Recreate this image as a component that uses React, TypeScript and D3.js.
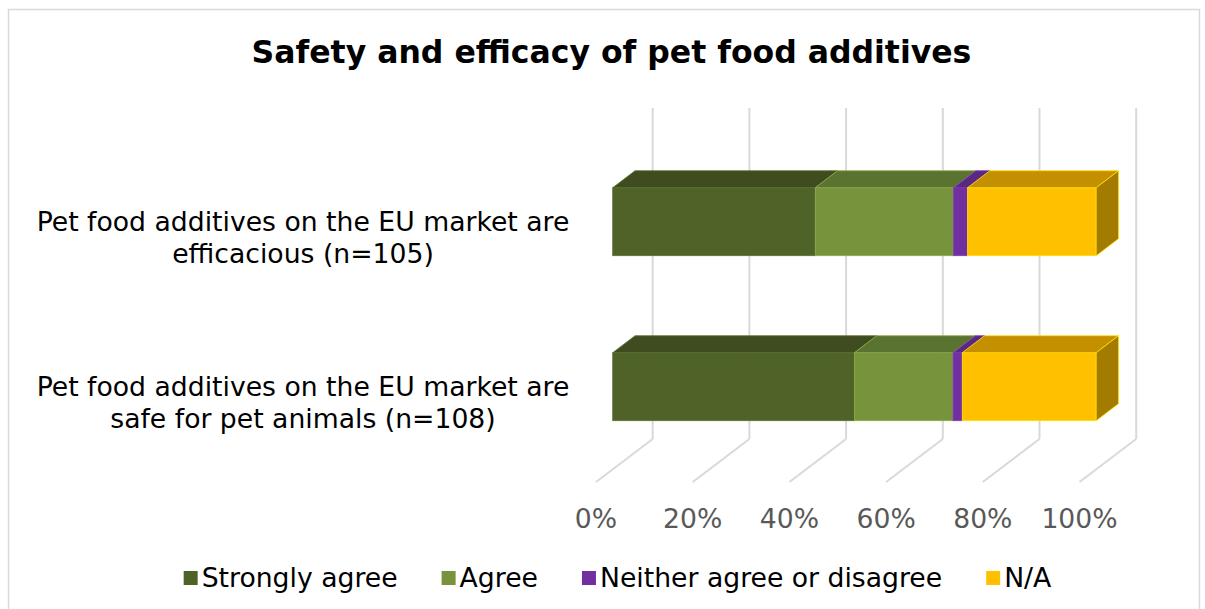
import React, { useEffect, useRef } from "react";
import * as d3 from "d3";

const categoryLines: string[][] = [
  ["Pet food additives on the EU market are", "efficacious (n=105)"],
  ["Pet food additives on the EU market are", "safe for pet animals (n=108)"],
];
const seriesNames = ["Strongly agree", "Agree", "Neither agree or disagree", "N/A"];
const stronglyAgree = [41.9, 50.0];
const agree = [28.6, 20.4];
const neither = [2.9, 1.9];
const notApplicable = [26.6, 27.7];
const tickValues = [0, 20, 40, 60, 80, 100];
const titleText = "Safety and efficacy of pet food additives";

const frontColors = ["#4F6228", "#77933C", "#7030A0", "#FFC000"];
const topColors = ["#3E4C20", "#5B7330", "#5A2782", "#C49000"];
const sideColors = ["#323E19", "#4A5D26", "#461F65", "#A37B00"];

const FONT = "'DejaVu Sans', Verdana, sans-serif";

export default function App() {
  const ref = useRef<SVGSVGElement | null>(null);

  useEffect(() => {
    const svg = d3.select(ref.current!);
    svg.selectAll("*").remove();

    // outer border
    svg
      .append("rect")
      .attr("x", 8.5)
      .attr("y", 9.5)
      .attr("width", 1191)
      .attr("height", 640)
      .attr("fill", "#fff")
      .attr("stroke", "#D9D9D9")
      .attr("stroke-width", 1.5);

    // title
    svg
      .append("text")
      .attr("x", 611.5)
      .attr("y", 63)
      .attr("text-anchor", "middle")
      .attr("font-family", FONT)
      .attr("font-weight", "bold")
      .attr("font-size", 31.5)
      .attr("fill", "#000")
      .text(titleText);

    const x = d3.scaleLinear().domain([0, 100]).range([612.7, 1096.2]);
    const y = d3
      .scaleBand<number>()
      .domain(categoryLines.map((_, i) => i))
      .range([139.2, 469.2])
      .paddingInner(0.588)
      .paddingOuter(0.294);
    const bw = y.bandwidth();

    const DX = 22.3;
    const DY = -17;
    const WALL_DX = 40;
    const FLOOR_DX = -16.7;
    const wallTop = 108;
    const wallBottom = 439;
    const floorFront = 482;

    // gridlines (back wall + floor)
    const grid = svg.append("g").attr("stroke", "#D9D9D9").attr("stroke-width", 2).attr("fill", "none");
    tickValues.forEach((t) => {
      grid
        .append("line")
        .attr("x1", x(t) + WALL_DX)
        .attr("x2", x(t) + WALL_DX)
        .attr("y1", wallTop)
        .attr("y2", wallBottom);
      grid
        .append("line")
        .attr("x1", x(t) + WALL_DX)
        .attr("y1", wallBottom)
        .attr("x2", x(t) + FLOOR_DX)
        .attr("y2", floorFront);
    });

    // axis labels
    svg
      .append("g")
      .selectAll("text")
      .data(tickValues)
      .join("text")
      .attr("x", (t) => x(t) + FLOOR_DX)
      .attr("y", 528)
      .attr("text-anchor", "middle")
      .attr("font-family", FONT)
      .attr("font-size", 26.67)
      .attr("fill", "#595959")
      .text((t) => `${t}%`);

    // stacked data
    const rows = categoryLines.map((_, i) => ({
      [seriesNames[0]]: stronglyAgree[i],
      [seriesNames[1]]: agree[i],
      [seriesNames[2]]: neither[i],
      [seriesNames[3]]: notApplicable[i],
    }));
    const stacked = d3.stack<any>().keys(seriesNames)(rows);

    const bars = svg.append("g");
    categoryLines.forEach((_, i) => {
      const yt = y(i)!;
      const yb = yt + bw;
      stacked.forEach((layer, j) => {
        const d = layer[i];
        const x0 = x(d[0]);
        const x1 = x(d[1]);
        const edge = d3.color(frontColors[j])!.brighter(0.45).formatHex();
        bars
          .append("rect")
          .attr("x", x0)
          .attr("y", yt)
          .attr("width", Math.max(0, x1 - x0))
          .attr("height", bw)
          .attr("fill", frontColors[j])
          .attr("stroke", edge)
          .attr("stroke-width", 0.8);
        bars
          .append("path")
          .attr(
            "d",
            `M${x0},${yt}L${x1},${yt}L${x1 + DX},${yt + DY}L${x0 + DX},${yt + DY}Z`
          )
          .attr("fill", topColors[j])
          .attr("stroke", edge)
          .attr("stroke-width", 0.8)
          .attr("stroke-linejoin", "round");
        if (j === stacked.length - 1) {
          bars
            .append("path")
            .attr(
              "d",
              `M${x1},${yt}L${x1 + DX},${yt + DY}L${x1 + DX},${yb + DY}L${x1},${yb}Z`
            )
            .attr("fill", sideColors[j])
            .attr("stroke", edge)
            .attr("stroke-width", 0.8)
            .attr("stroke-linejoin", "round");
        }
      });
    });

    // category labels
    const cat = svg.append("g");
    categoryLines.forEach((lines, i) => {
      const base = y(i)! + 43.3;
      lines.forEach((ln, k) => {
        cat
          .append("text")
          .attr("x", 303)
          .attr("y", base + k * 32)
          .attr("text-anchor", "middle")
          .attr("font-family", FONT)
          .attr("font-size", 26.67)
          .attr("fill", "#000")
          .text(ln);
      });
    });

    // legend
    const legend = svg.append("g");
    const sw = 14;
    const gapText = 4;
    const gapItem = 44;
    const items = seriesNames.map((name, j) => {
      const g = legend.append("g");
      g.append("rect")
        .attr("x", 0)
        .attr("y", 571)
        .attr("width", sw)
        .attr("height", sw)
        .attr("fill", frontColors[j]);
      const t = g
        .append("text")
        .attr("x", sw + gapText)
        .attr("y", 587)
        .attr("font-family", FONT)
        .attr("font-size", 26.67)
        .attr("fill", "#000")
        .text(name);
      const w = (t.node() as SVGTextElement).getComputedTextLength();
      return { g, w: sw + gapText + w };
    });
    const total = items.reduce((s, it) => s + it.w, 0) + gapItem * (items.length - 1);
    let cx = 617.5 - total / 2;
    items.forEach((it) => {
      it.g.attr("transform", `translate(${cx},0)`);
      cx += it.w + gapItem;
    });
  }, []);

  return (
    <svg
      ref={ref}
      width={1205}
      height={609}
      style={{ position: "absolute", left: 0, top: 0, display: "block" }}
    />
  );
}
